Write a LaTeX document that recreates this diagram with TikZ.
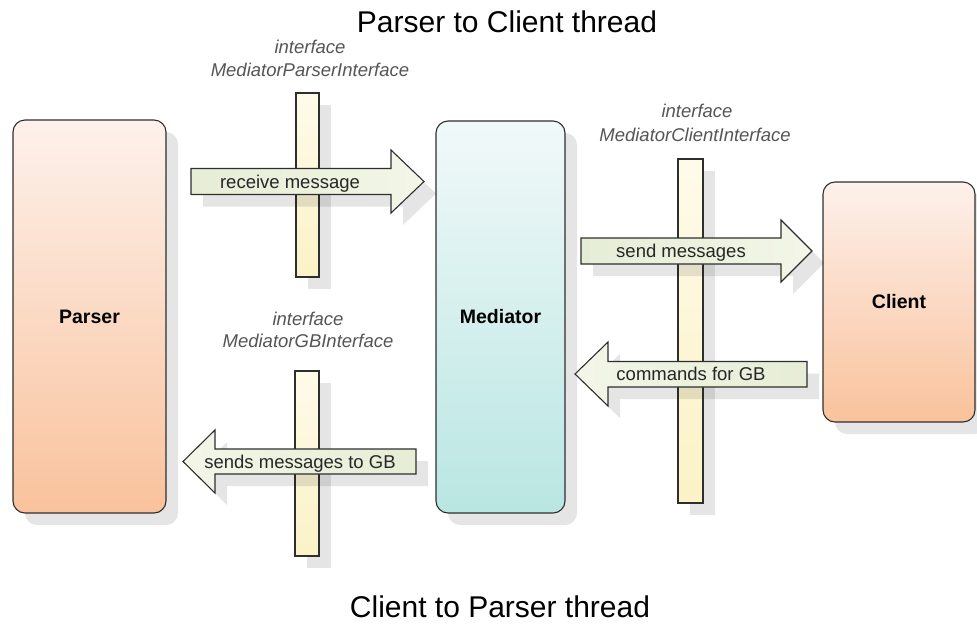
\documentclass[tikz,border=0pt]{standalone}
\usepackage{fontspec}
\setmainfont{Liberation Sans}
\usetikzlibrary{shadows}
\definecolor{edge}{HTML}{2E2E2E}
\definecolor{peachtop}{HTML}{FDF1EB}
\definecolor{peachbot}{HTML}{F9C29C}
\definecolor{tealtop}{HTML}{F1F9F9}
\definecolor{tealbot}{HTML}{B9E6E2}
\definecolor{bartop}{HTML}{FEFBEA}
\definecolor{barbot}{HTML}{FBF2C6}
\definecolor{arrowdark}{HTML}{E6EDD5}
\definecolor{arrowlight}{HTML}{F3F6E8}
\definecolor{labelgray}{HTML}{555555}
\tikzset{
  shade/.style={drop shadow={shadow xshift=12pt, shadow yshift=-12pt, fill=black, opacity=0.1}},
  component/.style={draw=edge, line width=1.1pt, rounded corners=12pt, shade,
    font=\fontsize{19.5}{22}\selectfont\bfseries, text=black, inner sep=0pt},
  ifacebar/.style={draw=edge, line width=1.1pt, shade, top color=bartop, bottom color=barbot},
  blockarrow/.style={draw=edge, line width=1.1pt, line join=miter, shade},
  arrowtext/.style={font=\fontsize{18.5}{21}\selectfont, text=black!85, anchor=base, inner sep=0pt},
  ifacetext/.style={font=\fontsize{18.5}{21}\selectfont\itshape, text=labelgray, anchor=base, inner sep=0pt},
  titletext/.style={font=\fontsize{30}{34}\selectfont, text=black, anchor=base, inner sep=0pt}
}
\begin{document}
\begin{tikzpicture}[x=1pt, y=-1pt]
\useasboundingbox (0,0) rectangle (977,625);

% titles
\node[titletext] (toptitle) at (507,32) {Parser to Client thread};
\node[titletext] (bottitle) at (500,617) {Client to Parser thread};

% components
\node[component, minimum width=153pt, minimum height=393pt,
      top color=peachtop, bottom color=peachbot] (parser) at (89.5,316.5) {Parser};
\node[component, minimum width=129pt, minimum height=392pt,
      top color=tealtop, bottom color=tealbot] (mediator) at (500.5,317) {Mediator};
\node[component, minimum width=152pt, minimum height=240pt,
      top color=peachtop, bottom color=peachbot] (client) at (899,302) {Client};

% interface bars
\path[ifacebar] (296,93) rectangle (319,277);
\path[ifacebar] (678,159) rectangle (703,503);
\path[ifacebar] (295,371) rectangle (319,556);
\coordinate (parserbar) at (307.5,93);
\coordinate (clientbar) at (690.5,159);
\coordinate (gbbar) at (307,371);

% interface labels
\node[ifacetext] (pif1) at (310,53) {interface};
\node[ifacetext] (pif2) at (310,76) {MediatorParserInterface};
\node[ifacetext] (cif1) at (697,117) {interface};
\node[ifacetext] (cif2) at (695,141) {MediatorClientInterface};
\node[ifacetext] (gif1) at (308,325) {interface};
\node[ifacetext] (gif2) at (308,347) {MediatorGBInterface};

% block arrows: parser -> mediator
\path[blockarrow, left color=arrowdark, right color=arrowlight]
  (191,168.5) -- (391,168.5) -- (391,150) -- (424,181.5) -- (391,213)
  -- (391,194.5) -- (191,194.5) -- cycle;
\node[arrowtext] (recv) at (290,188) {receive message};

% mediator -> client
\path[blockarrow, left color=arrowdark, right color=arrowlight]
  (581,238) -- (781,238) -- (781,220) -- (812,251) -- (781,282)
  -- (781,264) -- (581,264) -- cycle;
\node[arrowtext] (send) at (681,257.5) {send messages};

% client -> mediator
\path[blockarrow, left color=arrowlight, right color=arrowdark]
  (807,361.5) -- (608,361.5) -- (608,342) -- (575,374) -- (608,406)
  -- (608,387) -- (807,387) -- cycle;
\node[arrowtext] (cmds) at (691,380.5) {commands for GB};

% mediator -> parser
\path[blockarrow, left color=arrowlight, right color=arrowdark]
  (416,449) -- (215,449) -- (215,430) -- (183,461.5) -- (215,493)
  -- (215,474) -- (416,474) -- cycle;
\node[arrowtext] (togb) at (300,468) {sends messages to GB};
\end{tikzpicture}
\end{document}
